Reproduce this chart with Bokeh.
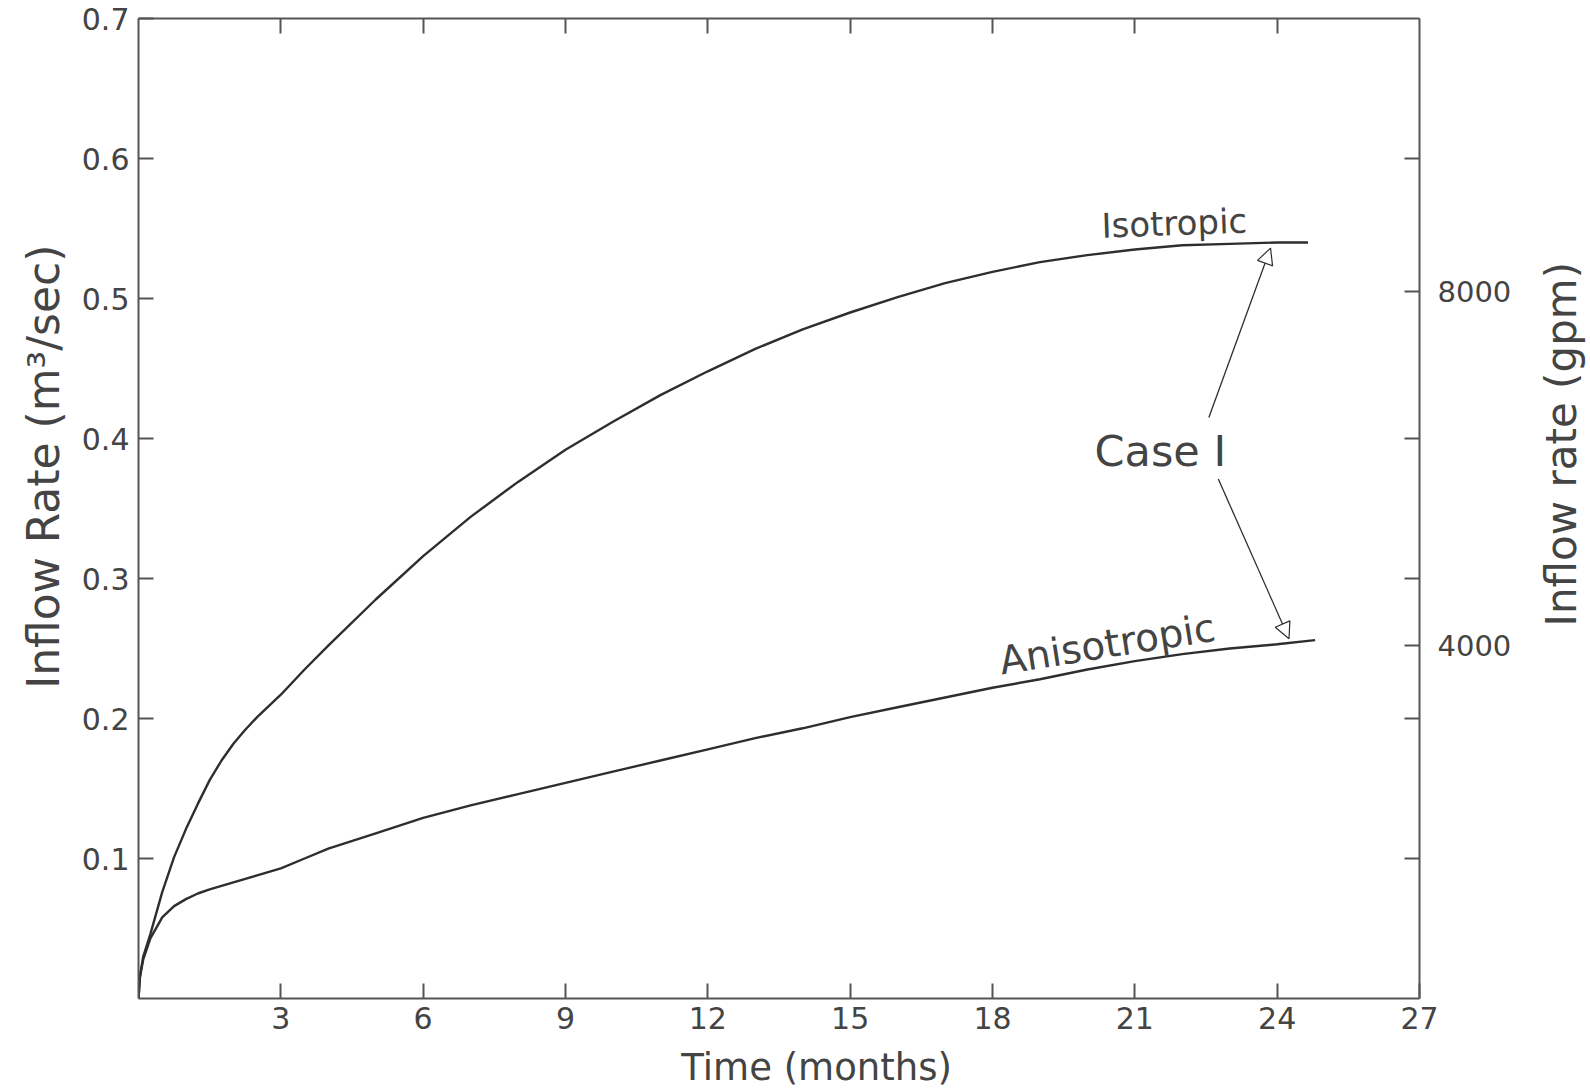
from bokeh.plotting import figure
from bokeh.layouts import row, column
from bokeh.models import (LinearAxis, Range1d, FixedTicker, Label, Arrow,
                          NormalHead, CustomJSTickFormatter)
from bokeh.embed import file_html
from bokeh.resources import INLINE

# ---- data ----
t_iso = [0, 0.03, 0.1, 0.25, 0.5, 0.75, 1.0, 1.25, 1.5, 1.75, 2.0, 2.25, 2.5,
         2.75, 3, 3.5, 4, 5, 6, 7, 8, 9, 10, 11, 12, 13, 14, 15, 16, 17, 18,
         19, 20, 21, 22, 23, 24, 24.65]
q_iso = [0, 0.016, 0.030, 0.046, 0.076, 0.101, 0.121, 0.139, 0.156, 0.170,
         0.182, 0.192, 0.201, 0.209, 0.217, 0.235, 0.252, 0.285, 0.316, 0.344,
         0.369, 0.392, 0.412, 0.431, 0.448, 0.464, 0.478, 0.490, 0.501, 0.511,
         0.519, 0.526, 0.531, 0.535, 0.538, 0.539, 0.540, 0.540]

t_aniso = [0, 0.03, 0.1, 0.25, 0.5, 0.75, 1.0, 1.25, 1.5, 2.0, 2.5, 3, 3.5, 4,
           5, 6, 7, 8, 9, 10, 11, 12, 13, 14, 15, 16, 17, 18, 19, 20, 21, 22,
           23, 24, 24.8]
q_aniso = [0, 0.015, 0.028, 0.043, 0.058, 0.066, 0.071, 0.075, 0.078, 0.083,
           0.088, 0.093, 0.100, 0.107, 0.118, 0.129, 0.138, 0.146, 0.154,
           0.162, 0.170, 0.178, 0.186, 0.193, 0.201, 0.208, 0.215, 0.222,
           0.228, 0.235, 0.241, 0.246, 0.250, 0.253, 0.256]

x_ticks = [3, 6, 9, 12, 15, 18, 21, 24, 27]
y_ticks = [0.1, 0.2, 0.3, 0.4, 0.5, 0.6, 0.7]
gpm_labels = [4000, 8000]
GPM_TO_M3S = 6.309e-5

x_title = "Time  (months)"
y_title = "Inflow Rate (m³/sec)"
y2_title = "Inflow rate (gpm)"

# annotation anchors (data units)
iso_label = (20.3, 0.552)
aniso_label = (18.15, 0.241)
case_label = (20.15, 0.391)
arrow_up = (22.56, 0.415, 23.86, 0.536)
arrow_down = (22.76, 0.371, 24.25, 0.257)

INK = "#2e2e2e"
AX = "#555555"
TXT = "#444444"
FONT = "DejaVu Sans"

# ---- layout sizes (px) ----
LEFT_W = 70          # strip holding the left title
MAIN_L, MAIN_R, MAIN_T, MAIN_B = 68, 100, 18, 45
FRAME_W, FRAME_H = 1281, 980
MAIN_W = MAIN_L + FRAME_W + MAIN_R
ROW_H = MAIN_T + FRAME_H + MAIN_B
TOTAL_W = 1588
RIGHT_W = TOTAL_W - LEFT_W - MAIN_W
BOTTOM_H = 1090 - ROW_H


def strip(w, h):
    f = figure(width=w, height=h, x_range=Range1d(0, w), y_range=Range1d(0, h),
               x_axis_type=None, y_axis_type=None, output_backend="svg",
               toolbar_location=None, min_border=0,
               background_fill_color="white", border_fill_color="white")
    f.grid.visible = False
    f.outline_line_color = None
    return f


p = figure(frame_width=FRAME_W, frame_height=FRAME_H,
           x_range=Range1d(0, 27), y_range=Range1d(0, 0.7),
           output_backend="svg", toolbar_location=None,
           min_border_left=MAIN_L, min_border_top=MAIN_T,
           min_border_right=MAIN_R, min_border_bottom=MAIN_B,
           background_fill_color="white", border_fill_color="white")
p.grid.visible = False
p.outline_line_color = None
p.extra_y_ranges = {"gpm": Range1d(0, 0.7 / GPM_TO_M3S)}


def style(ax, size="30px"):
    ax.axis_line_color = AX
    ax.axis_line_width = 2
    ax.major_tick_line_color = AX
    ax.major_tick_line_width = 2
    ax.major_tick_in = 15
    ax.major_tick_out = 0
    ax.minor_tick_line_color = None
    ax.major_label_text_font = FONT
    ax.major_label_text_font_size = size
    ax.major_label_text_color = TXT


xa = p.xaxis[0]
style(xa)
xa.ticker = FixedTicker(ticks=x_ticks)
xa.major_label_standoff = 8

ya = p.yaxis[0]
style(ya)
ya.ticker = FixedTicker(ticks=y_ticks)
ya.major_label_standoff = 9

top = LinearAxis(ticker=FixedTicker(ticks=x_ticks[:-1]),
                 formatter=CustomJSTickFormatter(code="return ''"))
style(top)
top.major_label_standoff = 0
top.major_label_text_font_size = "1px"
p.add_layout(top, "above")

right_ticks = [q / GPM_TO_M3S for q in y_ticks if q not in (0.5, 0.7)] + gpm_labels
ra = LinearAxis(y_range_name="gpm", ticker=FixedTicker(ticks=right_ticks),
                formatter=CustomJSTickFormatter(
                    args=dict(labels=gpm_labels),
                    code="return labels.includes(Math.round(tick)) ? Math.round(tick).toString() : ''"))
style(ra, "29px")
ra.major_label_standoff = 18
p.add_layout(ra, "right")

# curves
p.line(t_iso, q_iso, line_color=INK, line_width=2.4)
p.line(t_aniso, q_aniso, line_color=INK, line_width=2.4)

# curve labels
p.add_layout(Label(x=iso_label[0], y=iso_label[1], text="Isotropic",
                   text_font=FONT, text_font_size="34px", text_color=TXT,
                   text_baseline="alphabetic", angle=2, angle_units="deg"))
p.add_layout(Label(x=aniso_label[0], y=aniso_label[1], text="Anisotropic",
                   text_font=FONT, text_font_size="39px", text_color=TXT,
                   text_baseline="alphabetic", angle=9, angle_units="deg"))
p.add_layout(Label(x=case_label[0], y=case_label[1], text="Case I",
                   text_font=FONT, text_font_size="43px", text_color=TXT,
                   text_baseline="alphabetic"))

for (x0, y0, x1, y1) in (arrow_up, arrow_down):
    p.add_layout(Arrow(x_start=x0, y_start=y0, x_end=x1, y_end=y1,
                       line_color=INK, line_width=1.3,
                       end=NormalHead(size=16, fill_color="white",
                                      line_color=INK, line_width=1.2)))

# axis titles in side strips (pixel coordinates within each strip)
left = strip(LEFT_W, ROW_H)
left.add_layout(Label(x=43, y=ROW_H - 477, text=y_title, text_font=FONT,
                      text_font_size="44px", text_color=TXT,
                      text_align="center", text_baseline="middle",
                      angle=90, angle_units="deg"))

right = strip(RIGHT_W, ROW_H)
right.add_layout(Label(x=1561 - LEFT_W - MAIN_W, y=ROW_H - 453, text=y2_title,
                       text_font=FONT, text_font_size="42px", text_color=TXT,
                       text_align="center", text_baseline="middle",
                       angle=90, angle_units="deg"))

bottom = strip(TOTAL_W, BOTTOM_H)
bottom.add_layout(Label(x=822, y=BOTTOM_H / 2, text=x_title,
                        text_font=FONT, text_font_size="37px", text_color=TXT,
                        text_align="center", text_baseline="middle"))

layout = column(row(left, p, right, spacing=0), bottom, spacing=0)

open("out.html", "w").write(file_html(layout, INLINE))
